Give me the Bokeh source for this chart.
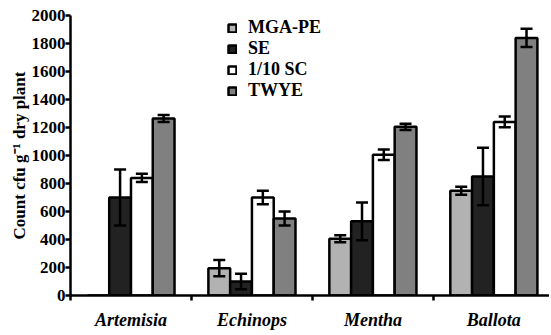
from bokeh.plotting import figure
from bokeh.models import (ColumnDataSource, Range1d, FixedTicker, Whisker, TeeHead,
                          Legend, LegendItem)
from bokeh.embed import file_html
from bokeh.resources import INLINE

categories = ["Artemisia", "Echinops", "Mentha", "Ballota"]
series = ["MGA-PE", "SE", "1/10 SC", "TWYE"]
colors = ["#b2b2b2", "#222222", "#ffffff", "#808080"]

mga_pe = [0, 195, 405, 748]
mga_pe_err = [0, 58, 25, 28]
se = [700, 100, 530, 850]
se_err = [200, 55, 135, 205]
sc = [840, 700, 1005, 1240]
sc_err = [30, 48, 38, 38]
twye = [1265, 550, 1205, 1840]
twye_err = [25, 50, 22, 65]

values = [mga_pe, se, sc, twye]
errors = [mga_pe_err, se_err, sc_err, twye_err]

y_ticks = list(range(0, 2001, 200))

FONT = "Liberation Serif"

p = figure(width=549, height=334, output_backend="svg", toolbar_location=None,
           x_range=Range1d(0, 3.96), y_range=Range1d(0, 2000),
           min_border_left=70, min_border_top=15, min_border_right=0,
           min_border_bottom=39)
p.outline_line_color = None
p.grid.visible = False
p.background_fill_color = "white"

bw = 0.18
items = []
for k, (name, col, vals, errs) in enumerate(zip(series, colors, values, errors)):
    xs = [i + 0.5 + (k - 1.5) * bw for i in range(len(categories))]
    src = ColumnDataSource(dict(x=xs, top=vals))
    r = p.vbar(x="x", top="top", width=bw, bottom=0, source=src,
               fill_color=col, line_color="black", line_width=2.5)
    items.append(LegendItem(label=name, renderers=[r]))
    esrc = ColumnDataSource(dict(
        x=[x for x, e in zip(xs, errs) if e > 0],
        upper=[v + e for v, e in zip(vals, errs) if e > 0],
        lower=[v - e for v, e in zip(vals, errs) if e > 0]))
    w = Whisker(base="x", upper="upper", lower="lower", source=esrc,
                level="annotation",
                line_color="black", line_width=2.5,
                upper_head=TeeHead(size=12, line_width=2.5, line_color="black"),
                lower_head=TeeHead(size=12, line_width=2.5, line_color="black"))
    p.add_layout(w)

legend = Legend(items=items, location=(157, 194), orientation="vertical",
                border_line_color=None, background_fill_alpha=0,
                label_text_font=FONT, label_text_font_style="bold",
                label_text_font_size="18px", label_text_color="black",
                label_height=16, label_standoff=11,
                glyph_width=10, glyph_height=10, spacing=-2, padding=0, margin=0,
                label_text_line_height=1.0)
p.add_layout(legend)

# axes
p.yaxis.ticker = FixedTicker(ticks=y_ticks)
p.yaxis.axis_line_width = 2.5
p.yaxis.axis_line_color = "black"
p.yaxis.major_tick_line_width = 2.5
p.yaxis.major_tick_line_color = "black"
p.yaxis.major_tick_out = 5
p.yaxis.major_tick_in = 0
p.yaxis.minor_tick_line_color = None
p.yaxis.major_label_text_font = FONT
p.yaxis.major_label_text_font_style = "bold"
p.yaxis.major_label_text_font_size = "17px"
p.yaxis.major_label_text_color = "black"
p.yaxis.major_label_standoff = 0
p.yaxis.axis_label = "Count cfu g\u207b\u00b9 dry plant"
p.yaxis.axis_label_text_font = FONT
p.yaxis.axis_label_text_font_style = "bold"
p.yaxis.axis_label_text_font_size = "17px"
p.yaxis.axis_label_text_color = "black"
p.yaxis.axis_label_standoff = 0

p.xaxis.ticker = FixedTicker(ticks=[i + 0.5 for i in range(len(categories))],
                             minor_ticks=list(range(0, len(categories))))
p.xaxis.major_label_overrides = {i + 0.5: c for i, c in enumerate(categories)}
p.xaxis.axis_line_width = 2.5
p.xaxis.axis_line_color = "black"
p.xaxis.major_tick_line_color = None
p.xaxis.minor_tick_line_width = 2.5
p.xaxis.minor_tick_line_color = "black"
p.xaxis.minor_tick_out = 5
p.xaxis.minor_tick_in = 0
p.xaxis.major_label_text_font = FONT
p.xaxis.major_label_text_font_style = "bold italic"
p.xaxis.major_label_text_font_size = "18px"
p.xaxis.major_label_text_color = "black"
p.xaxis.major_label_standoff = 8

open("out.html", "w").write(file_html(p, INLINE))
